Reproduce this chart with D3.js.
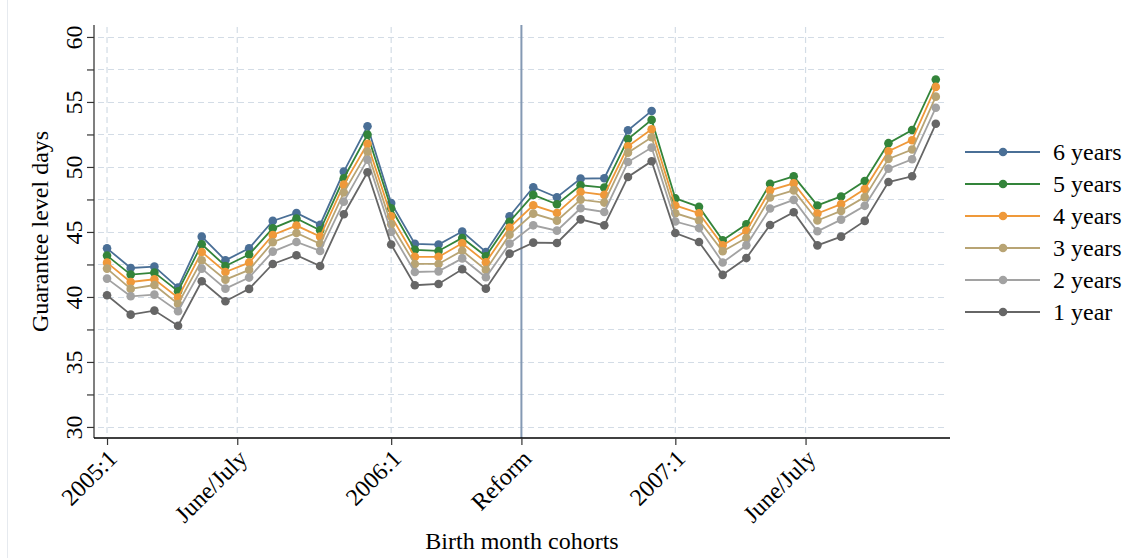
<!DOCTYPE html>
<html>
<head>
<meta charset="utf-8">
<script src="https://cdn.jsdelivr.net/npm/d3@7"></script>
<style>
  html, body { margin: 0; padding: 0; background: #ffffff; }
  svg { display: block; }
  text { font-family: "Liberation Serif", "DejaVu Serif", serif; fill: #000; }
</style>
</head>
<body>
<svg id="chart" width="1127" height="558"></svg>
<script>
// ---- data ----
const monthIndex = d3.range(36); // 2005:1 ... 2007:12
const xTickPositions = [0, 5.5, 12, 17.5, 24, 29.5];
const xTickLabels = ["2005:1", "June/July", "2006:1", "Reform", "2007:1", "June/July"];
const reformPosition = 17.5;
const yTickValues = [30, 35, 40, 45, 50, 55, 60];
const yMinorTicks = d3.range(30, 60.01, 2.5);

const seriesNames = ["6 years", "5 years", "4 years", "3 years", "2 years", "1 year"];
const seriesColors = ["#4a6f96", "#33843a", "#ef993a", "#b8a474", "#a2a2a2", "#666666"];

const sixYears = [43.74, 42.23, 42.33, 40.72, 44.64, 42.82, 43.74, 45.85, 46.46, 45.56, 49.64, 53.13,
  47.23, 44.08, 44.03, 45.03, 43.46, 46.21, 48.44, 47.67, 49.10, 49.13, 52.82, 54.31];
const fiveYears = [43.18, 41.72, 41.87, 40.44, 44.05, 42.38, 43.26, 45.28, 46.03, 45.13, 49.13, 52.49,
  46.82, 43.62, 43.54, 44.54, 43.13, 45.79, 47.85, 47.13, 48.59, 48.41, 52.15, 53.62,
  47.58, 46.93, 44.36, 45.59, 48.71, 49.28, 47.04, 47.73, 48.92, 51.83, 52.84, 56.73];
const fourYears = [42.64, 41.15, 41.36, 39.95, 43.46, 41.92, 42.64, 44.77, 45.49, 44.64, 48.64, 51.79,
  46.21, 43.08, 43.08, 44.13, 42.67, 45.33, 47.05, 46.46, 48.08, 47.85, 51.59, 52.90,
  47.04, 46.44, 43.97, 45.08, 48.20, 48.74, 46.42, 47.14, 48.30, 51.21, 52.06, 56.16];
const threeYears = [42.18, 40.62, 40.92, 39.46, 42.82, 41.33, 42.08, 44.21, 44.92, 44.08, 48.03, 51.18,
  45.59, 42.54, 42.54, 43.56, 42.08, 44.79, 46.41, 45.87, 47.49, 47.26, 51.10, 52.28,
  46.44, 45.88, 43.51, 44.54, 47.65, 48.20, 45.88, 46.62, 47.68, 50.62, 51.34, 55.41];
const twoYears = [41.41, 40.05, 40.18, 38.90, 42.18, 40.64, 41.49, 43.49, 44.23, 43.54, 47.33, 50.56,
  45.00, 41.92, 41.97, 42.97, 41.51, 44.10, 45.51, 45.10, 46.82, 46.54, 50.38, 51.49,
  45.80, 45.31, 42.65, 43.97, 46.80, 47.47, 45.05, 45.95, 47.01, 49.87, 50.59, 54.56];
const oneYear = [40.13, 38.64, 38.95, 37.79, 41.21, 39.67, 40.62, 42.54, 43.21, 42.38, 46.36, 49.59,
  44.03, 40.90, 41.00, 42.13, 40.64, 43.33, 44.18, 44.15, 45.97, 45.51, 49.23, 50.44,
  44.92, 44.23, 41.70, 42.99, 45.54, 46.52, 43.97, 44.64, 45.85, 48.84, 49.28, 53.32];

const seriesValues = [sixYears, fiveYears, fourYears, threeYears, twoYears, oneYear];

// ---- layout ----
const svg = d3.select("#chart");
const plot = { left: 94, right: 950, top: 25, bottom: 438 };
const fontSize = 24;

const x = d3.scaleLinear().domain([-0.55, 35.6]).range([plot.left, plot.right]);
const y = d3.scaleLinear().domain([29.15, 60.92]).range([plot.bottom, plot.top]);

// faint outer region edge
svg.append("line").attr("x1", 7.5).attr("x2", 7.5).attr("y1", 0).attr("y2", 558)
  .attr("stroke", "#e6eaef").attr("stroke-width", 1);

// horizontal grid
svg.append("g").selectAll("line").data(yMinorTicks).join("line")
  .attr("x1", plot.left + 4).attr("x2", plot.right - 5)
  .attr("y1", d => Math.round(y(d)) + 0.5).attr("y2", d => Math.round(y(d)) + 0.5)
  .attr("stroke", "#d3dce6").attr("stroke-width", 1.2).attr("stroke-dasharray", "6,4");

// vertical grid (not at reform)
svg.append("g").selectAll("line").data(xTickPositions.filter(d => d !== reformPosition)).join("line")
  .attr("x1", d => x(d)).attr("x2", d => x(d))
  .attr("y1", plot.top + 2).attr("y2", plot.bottom)
  .attr("stroke", "#d3dce6").attr("stroke-width", 1.2).attr("stroke-dasharray", "6,4");

// reform line
svg.append("line")
  .attr("x1", x(reformPosition)).attr("x2", x(reformPosition))
  .attr("y1", plot.top).attr("y2", plot.bottom)
  .attr("stroke", "#8499b3").attr("stroke-width", 2);

// y axis
const yAxis = d3.axisLeft(y).tickValues(yMinorTicks).tickSize(7)
  .tickFormat(d => (d % 5 === 0 ? d3.format("d")(d) : ""));
const gy = svg.append("g").attr("transform", `translate(${plot.left},0)`).call(yAxis);
gy.select(".domain").attr("d", `M0,${plot.top}V${plot.bottom}`).attr("stroke", "#555").attr("stroke-width", 1.5);
gy.selectAll(".tick line").attr("stroke", "#333").attr("stroke-width", 1.2);
gy.selectAll(".tick text")
  .attr("font-size", fontSize).attr("font-family", "Liberation Serif")
  .attr("x", 0).attr("dy", 0)
  .attr("text-anchor", "middle")
  .attr("transform", "translate(-12,0) rotate(-90)");

// x axis
const xAxis = d3.axisBottom(x).tickValues(xTickPositions).tickSize(7)
  .tickFormat((d, i) => xTickLabels[i]);
const gx = svg.append("g").attr("transform", `translate(0,${plot.bottom})`).call(xAxis);
gx.select(".domain").attr("d", `M${plot.left},0H${plot.right}`).attr("stroke", "#000").attr("stroke-width", 1.5);
gx.selectAll(".tick line").attr("stroke", "#333").attr("stroke-width", 1.2);
gx.selectAll(".tick text")
  .attr("font-size", fontSize).attr("font-family", "Liberation Serif")
  .attr("y", 0).attr("dy", "0.35em")
  .attr("text-anchor", "end")
  .attr("transform", "translate(5,16) rotate(-45)");

// axis titles
svg.append("text").attr("x", (plot.left + plot.right) / 2).attr("y", 549)
  .attr("text-anchor", "middle").attr("font-size", fontSize).text("Birth month cohorts");
svg.append("text")
  .attr("transform", `translate(48,${(plot.top + plot.bottom) / 2}) rotate(-90)`)
  .attr("text-anchor", "middle").attr("font-size", fontSize).text("Guarantee level days");

// series
const line = d3.line().x((d, i) => x(monthIndex[i])).y(d => y(d));
const gs = svg.append("g");
seriesValues.forEach((vals, k) => {
  const g = gs.append("g");
  g.append("path").datum(vals).attr("d", line)
    .attr("fill", "none").attr("stroke", seriesColors[k]).attr("stroke-width", 1.8);
  g.selectAll("circle").data(vals).join("circle")
    .attr("cx", (d, i) => x(monthIndex[i])).attr("cy", d => y(d)).attr("r", 4.3)
    .attr("fill", seriesColors[k]);
});

// legend
const legend = svg.append("g");
seriesNames.forEach((name, k) => {
  const ly = 152 + k * 32;
  legend.append("line").attr("x1", 965).attr("x2", 1040).attr("y1", ly).attr("y2", ly)
    .attr("stroke", seriesColors[k]).attr("stroke-width", 1.8);
  legend.append("circle").attr("cx", 1003).attr("cy", ly).attr("r", 4.3).attr("fill", seriesColors[k]);
  legend.append("text").attr("x", 1053).attr("y", ly).attr("dy", "0.35em")
    .attr("font-size", fontSize).text(name);
});
</script>
</body>
</html>
